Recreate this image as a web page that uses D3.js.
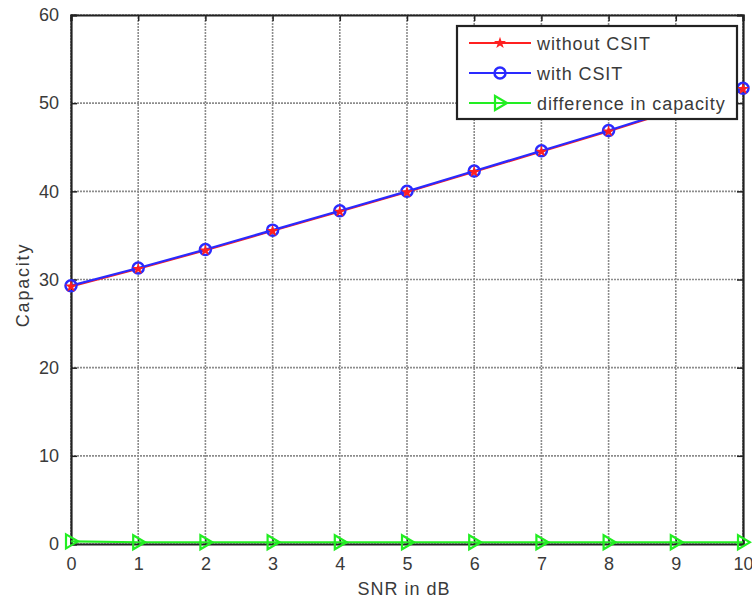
<!DOCTYPE html>
<html><head><meta charset="utf-8">
<script src="https://cdn.jsdelivr.net/npm/d3@7/dist/d3.min.js"></script>
<style>body{margin:0;background:#fff}svg{display:block}text{font-family:"Liberation Sans",Arial,sans-serif}</style>
</head><body>
<script>
const snr = [0,1,2,3,4,5,6,7,8,9,10];
const withoutCSIT = [29.2,31.2,33.3,35.5,37.7,39.9,42.2,44.5,46.8,49.2,51.6];
const withCSIT    = [29.3,31.3,33.4,35.6,37.8,40.0,42.3,44.6,46.9,49.3,51.7];
const diffCap     = [0.3,0.2,0.2,0.2,0.2,0.2,0.2,0.2,0.2,0.2,0.2];
const xTicks = [0,1,2,3,4,5,6,7,8,9,10];
const yTicks = [0,10,20,30,40,50,60];
const legendLabels = ["without CSIT","with CSIT","difference in capacity"];

const W=752,H=598;
const m={l:71,t:15,r:9,b:54};
const svg=d3.select("body").append("svg").attr("width",W).attr("height",H);
const x=d3.scaleLinear().domain([0,10]).range([m.l,W-m.r]);
const y=d3.scaleLinear().domain([0,60]).range([H-m.b,m.t]);

// grid
const g=svg.append("g");
g.selectAll(".gx").data(xTicks).join("line").attr("x1",d=>x(d)).attr("x2",d=>x(d))
 .attr("y1",y(0)).attr("y2",y(60)).attr("stroke","#8c8c8c").attr("stroke-width",1.6).attr("stroke-dasharray","2,1");
g.selectAll(".gy").data(yTicks).join("line").attr("y1",d=>y(d)).attr("y2",d=>y(d))
 .attr("x1",x(0)).attr("x2",x(10)).attr("stroke","#8c8c8c").attr("stroke-width",1.6).attr("stroke-dasharray","2,1");

// axes with inward ticks
const ax=d3.axisBottom(x).tickValues(xTicks).tickSize(-6).tickPadding(13);
const ay=d3.axisLeft(y).tickValues(yTicks).tickSize(-6).tickPadding(12);
const axT=d3.axisTop(x).tickValues(xTicks).tickSize(-6).tickFormat("");
const ayR=d3.axisRight(y).tickValues(yTicks).tickSize(-6).tickFormat("");
function style(sel){sel.selectAll("path").attr("stroke","#222").attr("stroke-width",2.2);
 sel.selectAll("line").attr("stroke","#222").attr("stroke-width",1.5);
 sel.selectAll("text").attr("font-size",18).attr("fill","#3a3a3a").attr("font-family","Liberation Sans, Arial, sans-serif");}
svg.append("g").attr("transform",`translate(0,${y(0)})`).call(ax).call(style);
svg.append("g").attr("transform",`translate(${x(0)},0)`).call(ay).call(style);
svg.append("g").attr("transform",`translate(0,${y(60)})`).call(axT).call(style);
svg.append("g").attr("transform",`translate(${x(10)},0)`).call(ayR).call(style);

// labels
svg.append("text").attr("x",404).attr("y",595).attr("text-anchor","middle")
 .attr("font-size",18).attr("letter-spacing",1).attr("fill","#3a3a3a").text("SNR in dB");
svg.append("text").attr("transform",`translate(29,285) rotate(-90)`).attr("text-anchor","middle")
 .attr("font-size",18).attr("letter-spacing",1.8).attr("fill","#3a3a3a").text("Capacity");

const line=d3.line().x((d,i)=>x(snr[i])).y(d=>y(d));
const series=[
 {v:withoutCSIT,c:"#ff2020",m:"star"},
 {v:withCSIT,c:"#2a2aff",m:"circle"},
 {v:diffCap,c:"#22ee22",m:"tri"}];

function marker(sel,type,c){
 if(type==="circle") sel.append("circle").attr("r",5.5).attr("fill","none").attr("stroke",c).attr("stroke-width",2.5);
 else if(type==="star") sel.append("path").attr("d",d3.symbol(d3.symbolStar,45)()).attr("fill",c);
 else sel.append("path").attr("d","M-5,-7L7,0L-5,7Z").attr("fill","none").attr("stroke",c).attr("stroke-width",2.2);
}
const lw=[1.8,2.2,2.2];
[0,1,2].forEach(k=>{
 const s=series[k];
 svg.append("path").datum(s.v).attr("d",line).attr("fill","none").attr("stroke",s.c).attr("stroke-width",lw[k]);
});
[1,0,2].forEach(k=>{
 const s=series[k];
 s.v.forEach((d,i)=>{const gg=svg.append("g").attr("transform",`translate(${x(snr[i])},${y(d)})`);marker(gg,s.m,s.c);});
});

// legend
const lg=svg.append("g");
lg.append("rect").attr("x",457).attr("y",26).attr("width",280).attr("height",93).attr("fill","#fff").attr("stroke","#222").attr("stroke-width",2.2);
legendLabels.forEach((t,i)=>{
 const yy=43+i*30;
 const s=series[i];
 lg.append("line").attr("x1",469).attr("x2",531).attr("y1",yy).attr("y2",yy).attr("stroke",s.c).attr("stroke-width",lw[i]);
 const gg=lg.append("g").attr("transform",`translate(500,${yy})`);marker(gg,s.m,s.c);
 lg.append("text").attr("x",537).attr("y",yy+7).attr("font-size",18).attr("letter-spacing",0.9).attr("fill","#3a3a3a").text(t);
});
</script>
</body></html>
